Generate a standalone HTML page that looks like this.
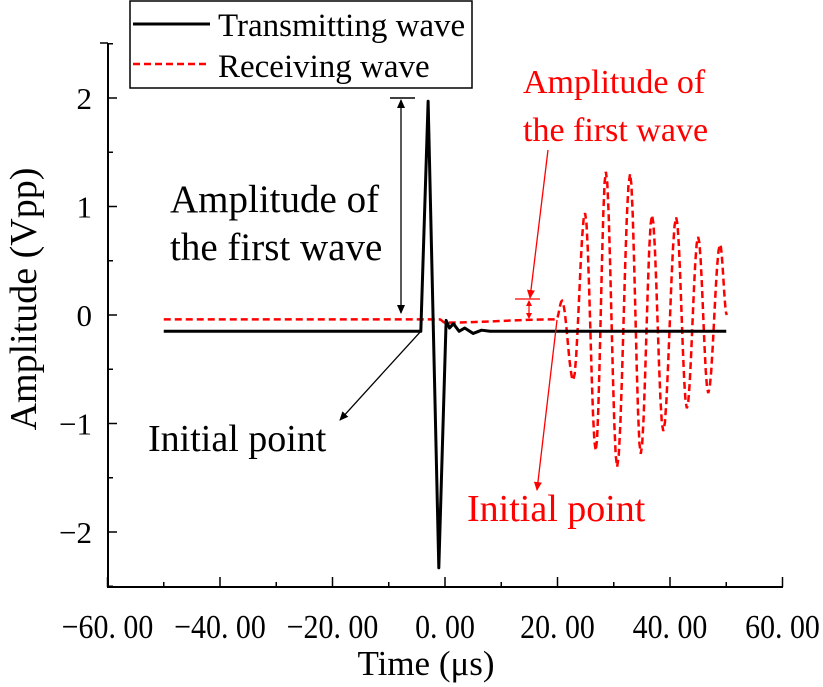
<!DOCTYPE html>
<html><head><meta charset="utf-8"><style>
html,body{margin:0;padding:0;background:#fff;}
svg{display:block;font-family:"Liberation Serif","Noto Serif CJK SC",serif;}
</style></head><body>
<svg id="chart" width="823" height="687" viewBox="0 0 823 687">
<defs>
<marker id="ab" markerWidth="10" markerHeight="10" refX="8" refY="4" orient="auto" markerUnits="userSpaceOnUse"><path d="M0,0 L9,4 L0,8 Z" fill="#000"/></marker>
<marker id="ar" markerWidth="10" markerHeight="10" refX="8" refY="4" orient="auto" markerUnits="userSpaceOnUse"><path d="M0,0 L9,4 L0,8 Z" fill="#f00"/></marker>
<marker id="abs" markerWidth="10" markerHeight="10" refX="1" refY="4" orient="auto" markerUnits="userSpaceOnUse"><path d="M9,0 L0,4 L9,8 Z" fill="#000"/></marker>
<marker id="ars" markerWidth="8" markerHeight="8" refX="1" refY="3" orient="auto" markerUnits="userSpaceOnUse"><path d="M6,0 L0,3 L6,6 Z" fill="#f00"/></marker>
<marker id="are" markerWidth="8" markerHeight="8" refX="5" refY="3" orient="auto" markerUnits="userSpaceOnUse"><path d="M0,0 L6,3 L0,6 Z" fill="#f00"/></marker>
</defs>
<g id="axes"></g>
<g id="series"></g>
<g id="annot">
<line x1="390" y1="98" x2="415" y2="98" stroke="#000" stroke-width="1.5"/>
<line x1="401" y1="100" x2="401" y2="313" stroke="#000" stroke-width="1.3" marker-start="url(#abs)" marker-end="url(#ab)"/>
<text x="170" y="212" font-size="39">Amplitude of</text>
<text x="170" y="260" font-size="39">the first wave</text>
<line x1="421" y1="331" x2="340" y2="420" stroke="#000" stroke-width="1.3" marker-end="url(#ab)"/>
<text x="148" y="451" font-size="38">Initial point</text>
<text x="523" y="93" font-size="34" fill="#f00">Amplitude of</text>
<text x="523" y="141" font-size="34" fill="#f00">the first wave</text>
<line x1="515" y1="299" x2="540" y2="299" stroke="#f00" stroke-width="1.3"/>
<line x1="529" y1="301" x2="529" y2="318" stroke="#f00" stroke-width="1.2" marker-start="url(#ars)" marker-end="url(#are)"/>
<line x1="548" y1="150" x2="530" y2="298" stroke="#f00" stroke-width="1.3" marker-end="url(#ar)"/>
<line x1="557" y1="320" x2="537" y2="490" stroke="#f00" stroke-width="1.3" marker-end="url(#ar)"/>
<text x="467" y="521" font-size="38" fill="#f00">Initial point</text>
</g>
<g id="legend">
<rect x="130" y="1" width="342" height="87" fill="#fff" stroke="#000" stroke-width="1.5"/>
<line x1="133" y1="24" x2="210" y2="24" stroke="#000" stroke-width="3"/>
<text x="218" y="36" font-size="33">Transmitting wave</text>
<line x1="133" y1="64" x2="210" y2="64" stroke="#f00" stroke-width="2.5" stroke-dasharray="7,4"/>
<text x="218" y="77" font-size="33">Receiving wave</text>
</g>
<text x="426" y="675" font-size="35" text-anchor="middle">Time (μs)</text>
<text transform="translate(36,299) rotate(-90)" font-size="38" text-anchor="middle">Amplitude (Vpp)</text>
</svg>
<script>
const xTicks=[-60,-40,-20,0,20,40,60];
const xTickLabels=["−60. 00","−40. 00","−20. 00","0. 00","20. 00","40. 00","60. 00"];
const yTicks=[-2,-1,0,1,2];
const yTickLabels=["−2","−1","0","1","2"];
const txTime=[-50,-4.3,-3.0,-1.1,0.2,0.8,1.5,2.5,3.5,5,6.5,8,50];
const txAmp=[-0.15,-0.15,1.97,-2.33,-0.05,-0.12,-0.08,-0.15,-0.12,-0.17,-0.14,-0.15,-0.15];
const rxTime=[-50,-4,-1,0,19.8,20.8,22.8,24.9,26.8,28.6,30.6,32.9,34.8,36.8,38.8,41.1,43,45,46.8,48.9,50.1];
const rxAmp=[-0.04,-0.04,-0.04,-0.07,-0.04,0.13,-0.6,0.94,-1.25,1.32,-1.4,1.3,-1.28,0.92,-1.07,0.9,-0.86,0.72,-0.72,0.65,0.0];
const X=t=>445+t*5.625;
const Y=v=>315-v*108.5;
const NS="http://www.w3.org/2000/svg";
function mk(tag,attrs,parent){const e=document.createElementNS(NS,tag);for(const k in attrs)e.setAttribute(k,attrs[k]);parent.appendChild(e);return e;}
const axes=document.getElementById('axes');
let a=mk('line',{x1:107,y1:587,x2:783,y2:587,stroke:'#000','stroke-width':2},axes);


a=mk('line',{x1:108,y1:43,x2:108,y2:588,stroke:'#000','stroke-width':2},axes);


for(let t=-60;t<=60;t+=10){const major=(t%20===0);const tk=mk('line',{x1:X(t),y1:587,x2:X(t),y2:587-(major?10:5),stroke:'#000','stroke-width':1.5},axes);

}
xTicks.forEach((t,i)=>{const tx=mk('text',{x:0,y:0,'font-size':34,'text-anchor':'middle',transform:`translate(${X(t)},638) scale(0.88,1)`},axes);tx.textContent=xTickLabels[i];

});
for(let v=-2.5;v<=2.5;v+=0.5){const major=Number.isInteger(v);const tk=mk('line',{x1:108,y1:Y(v),x2:108+(major?9:5),y2:Y(v),stroke:'#000','stroke-width':1.5},axes);

}
a=mk('line',{x1:100,y1:43,x2:108,y2:43,stroke:'#000','stroke-width':1.5},axes);


yTicks.forEach((v,i)=>{const tx=mk('text',{x:92,y:Y(v)+11,'font-size':31,'text-anchor':'end'},axes);tx.textContent=yTickLabels[i];

});
const series=document.getElementById('series');
function cosPath(ts,vs){let d=`M${X(ts[0])},${Y(vs[0])}`;for(let i=1;i<ts.length;i++){const n=8;for(let k=1;k<=n;k++){const f=(1-Math.cos(Math.PI*k/n))/2;const t=ts[i-1]+(ts[i]-ts[i-1])*k/n;const v=vs[i-1]+(vs[i]-vs[i-1])*f;d+=` L${X(t).toFixed(2)},${Y(v).toFixed(2)}`;}}return d;}
let p=mk('path',{d:cosPath(rxTime,rxAmp),fill:'none',stroke:'#f00','stroke-width':2.5,'stroke-dasharray':'7,4'},series);


let d=`M${X(txTime[0])},${Y(txAmp[0])}`;for(let i=1;i<txTime.length;i++)d+=` L${X(txTime[i])},${Y(txAmp[i])}`;
p=mk('path',{d:d,fill:'none',stroke:'#000','stroke-width':3,'stroke-linejoin':'round'},series);


</script>
</body></html>
